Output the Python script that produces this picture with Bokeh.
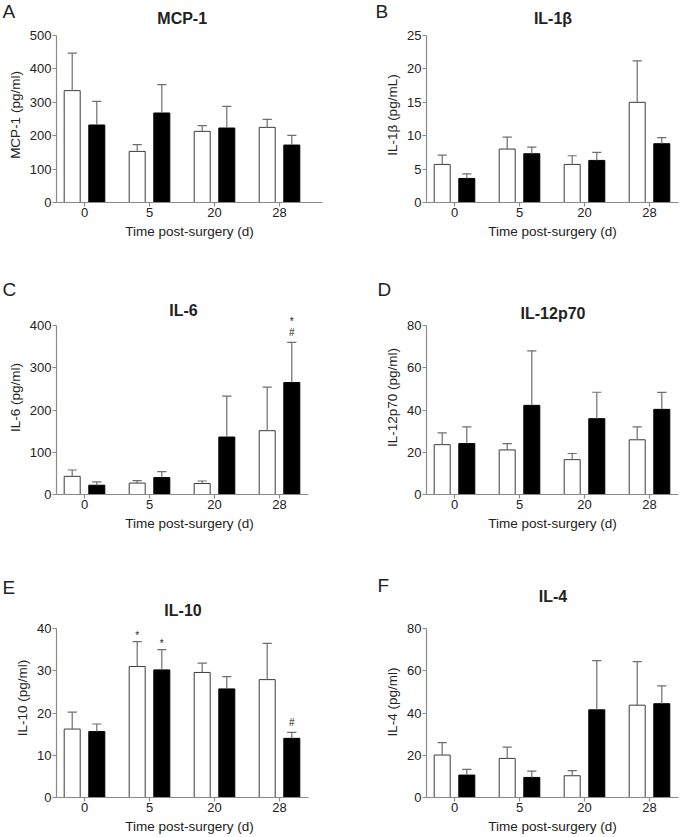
import numpy as np
from bokeh.plotting import figure
from bokeh.layouts import row, column
from bokeh.models import Range1d, FixedTicker, LabelSet, ColumnDataSource
from bokeh.core.properties import value
from bokeh.embed import file_html
from bokeh.resources import INLINE

# ---------------- data ----------------
days = ["0", "5", "20", "28"]
xlabel = "Time post-surgery (d)"

# open (white) bars and filled (black) bars: mean and upper error (SEM)
mcp1_open = [335, 153, 213, 225]
mcp1_open_err = [112, 20, 17, 24]
mcp1_fill = [232, 268, 223, 172]
mcp1_fill_err = [71, 85, 65, 29]

il1b_open = [5.7, 8.0, 5.7, 15.0]
il1b_open_err = [1.4, 1.8, 1.3, 6.2]
il1b_fill = [3.6, 7.3, 6.3, 8.8]
il1b_fill_err = [0.7, 1.0, 1.2, 0.9]

il6_open = [43, 27, 26, 151]
il6_open_err = [15, 6, 6, 103]
il6_fill = [22, 40, 136, 265]
il6_fill_err = [8, 14, 97, 95]

il12_open = [23.6, 21.1, 16.5, 25.9]
il12_open_err = [5.6, 3.0, 2.9, 6.1]
il12_fill = [24.1, 42.2, 35.9, 40.3]
il12_fill_err = [7.9, 25.8, 12.5, 8.0]

il10_open = [16.2, 31.0, 29.6, 27.9]
il10_open_err = [4.0, 5.9, 2.2, 8.6]
il10_fill = [15.6, 30.2, 25.7, 14.0]
il10_fill_err = [1.8, 4.8, 2.9, 1.4]

il4_open = [20.1, 18.5, 10.3, 43.7]
il4_open_err = [5.9, 5.3, 2.4, 20.6]
il4_fill = [10.6, 9.5, 41.5, 44.4]
il4_fill_err = [2.7, 3.0, 23.3, 8.4]

# significance marks: day index, series, symbol, stack level
il6_mark_day = [3, 3]
il6_mark_series = ["fill", "fill"]
il6_mark_sym = ["#", "*"]
il6_mark_level = [0, 1]

il10_mark_day = [1, 1, 3]
il10_mark_series = ["open", "fill", "fill"]
il10_mark_sym = ["*", "*", "#"]
il10_mark_level = [0, 0, 0]

# ---------------- style / layout ----------------
FONT = "Liberation Sans"
TXT = "#222222"
AXIS = "#8a8a8a"
BAR_LINE = "#3a3a3a"
ERR = "#6e6e6e"
GROUP_PX = 65.0
BAR_W = 16 / GROUP_PX
OFF = 12.3 / GROUP_PX
CAP = 4.6 / GROUP_PX
MARK_BASE = {"*": 3, "#": 6}
MARK_STEP = 14

COL_W = 340
COLS = [dict(left=56, right=18), dict(left=86, right=2)]


def screen_text(fig, x, y, text, size, bold=False, align="left"):
    src = ColumnDataSource(dict(x=[x], y=[y], text=[text]))
    fig.add_layout(LabelSet(x="x", y="y", text="text", source=src,
                            x_units="screen", y_units="screen",
                            text_font=value(FONT), text_font_size=value(size),
                            text_font_style="bold" if bold else "normal",
                            text_color=TXT, text_align=align,
                            text_baseline="alphabetic"))


def strip(height, letter, lx, ly, title=None, tx=None, ty=None):
    s = figure(width=COL_W, height=height, x_range=Range1d(0, COL_W),
               y_range=Range1d(0, height), x_axis_type=None, y_axis_type=None,
               output_backend="svg", toolbar_location=None, min_border=0,
               frame_align=False)
    s.outline_line_color = None
    s.grid.visible = False
    screen_text(s, lx, ly, letter, "19px")
    if title is not None:
        screen_text(s, tx, ty, title, "16px", bold=True, align="center")
    return s


def panel(ylabel, ymax, ystep, o, oe, f, fe, col, height, frame_h, axis_gap,
          bottom, axis_end=None, marks=None, title=None, tx=None, ty=None):
    c = COLS[col]
    fw = COL_W - c["left"] - c["right"]
    x0 = -28 / GROUP_PX
    x1 = x0 + fw / GROUP_PX
    ytop = ymax * frame_h / (frame_h - axis_gap)
    p = figure(width=COL_W, height=height,
               x_range=Range1d(x0, x1), y_range=Range1d(0, ytop),
               output_backend="svg", toolbar_location=None,
               min_border_left=c["left"], min_border_right=c["right"],
               min_border_top=0, min_border_bottom=bottom, frame_align=False)
    p.outline_line_color = None
    p.grid.visible = False

    idx = np.arange(len(days))
    xo = idx - OFF
    xf = idx + OFF
    o = np.array(o, float); oe = np.array(oe, float)
    f = np.array(f, float); fe = np.array(fe, float)

    p.vbar(x=xo, top=o, bottom=0, width=BAR_W, fill_color="white",
           line_color=BAR_LINE, line_width=1)
    p.vbar(x=xf, top=f, bottom=0, width=BAR_W, fill_color="black",
           line_color="black", line_width=1)
    for xx, m, e in ((xo, o, oe), (xf, f, fe)):
        p.segment(x0=xx, y0=m, x1=xx, y1=m + e, line_color=ERR, line_width=1.2)
        p.segment(x0=xx - CAP, y0=m + e, x1=xx + CAP, y1=m + e,
                  line_color=ERR, line_width=1.2)

    xa = p.xaxis[0]
    xa.ticker = FixedTicker(ticks=[int(i) for i in idx])
    xa.major_label_overrides = {int(i): d for i, d in enumerate(days)}
    xa.axis_label = xlabel
    if axis_end is not None:
        xa.bounds = (x0, axis_end)
    ya = p.yaxis[0]
    ya.ticker = FixedTicker(ticks=list(range(0, ymax + 1, ystep)))
    ya.bounds = (0, ymax)
    ya.axis_label = ylabel
    for ax in (xa, ya):
        ax.axis_line_color = AXIS
        ax.axis_line_width = 1.2
        ax.major_tick_line_color = AXIS
        ax.major_tick_line_width = 1.2
        ax.major_tick_out = 4
        ax.major_tick_in = 0
        ax.minor_tick_line_color = None
        ax.major_label_text_font = FONT
        ax.major_label_text_font_size = "13px"
        ax.major_label_text_color = TXT
        ax.axis_label_text_font = FONT
        ax.axis_label_text_font_size = "13.5px"
        ax.axis_label_text_font_style = "normal"
        ax.axis_label_text_color = TXT
        ax.major_label_standoff = 1
        ax.axis_label_standoff = 4

    if title is not None:
        screen_text(p, tx, ty, title, "16px", bold=True, align="center")

    if marks is not None:
        mday, mser, msym, mlev = marks
        mx, my, moff = [], [], []
        for d, s, sym, lv in zip(mday, mser, msym, mlev):
            if s == "open":
                mx.append(d - OFF); my.append(o[d] + oe[d])
            else:
                mx.append(d + OFF); my.append(f[d] + fe[d])
            moff.append(MARK_BASE[sym] + MARK_STEP * lv)
        src = ColumnDataSource(dict(x=mx, y=my, text=msym, off=moff))
        p.add_layout(LabelSet(x="x", y="y", text="text", source=src, y_offset="off",
                              text_font=value(FONT), text_font_size="10px",
                              text_color=TXT, text_align="center",
                              text_baseline="alphabetic"))
    return p


# row 1 (page 0..250): strip 0..27, plots 27..250
sA = strip(27, "A", 2, 9.5, "MCP-1", 181.7, 4)
pA = panel("MCP-1 (pg/ml)", 500, 100, mcp1_open, mcp1_open_err, mcp1_fill,
           mcp1_fill_err, 0, 223, 175, 8, 48)
sB = strip(27, "B", 35, 9.5, "IL-1β", 212.5, 3.5)
pB = panel("IL-1β (pg/mL)", 25, 5, il1b_open, il1b_open_err, il1b_fill,
           il1b_fill_err, 1, 223, 175, 8, 48)

# row 2 (page 250..540): strip 250..300, plots 300..540
sC = strip(50, "C", 2, 5)
pC = panel("IL-6 (pg/ml)", 400, 100, il6_open, il6_open_err, il6_fill,
           il6_fill_err, 0, 240, 194, 25, 46, axis_end=224 / GROUP_PX,
           marks=(il6_mark_day, il6_mark_series, il6_mark_sym, il6_mark_level),
           title="IL-6", tx=127, ty=179)
sD = strip(50, "D", 37, 5)
pD = panel("IL-12p70 (pg/ml)", 80, 20, il12_open, il12_open_err, il12_fill,
           il12_fill_err, 1, 240, 194, 25, 46,
           title="IL-12p70", tx=126.5, ty=176)

# row 3 (page 540..837)
sE = strip(58, "E", 2, 4.7)
pE = panel("IL-10 (pg/ml)", 40, 10, il10_open, il10_open_err, il10_fill,
           il10_fill_err, 0, 239, 199, 30, 40, axis_end=224 / GROUP_PX,
           marks=(il10_mark_day, il10_mark_series, il10_mark_sym, il10_mark_level),
           title="IL-10", tx=126.5, ty=182)
sF = strip(66, "F", 37, 14.3, "IL-4", 212.5, 5)
pF = panel("IL-4 (pg/ml)", 80, 20, il4_open, il4_open_err, il4_fill,
           il4_fill_err, 1, 231, 191, 22, 40)

layout = column(
    row(column(sA, pA), column(sB, pB)),
    row(column(sC, pC), column(sD, pD)),
    row(column(sE, pE), column(sF, pF)),
)

open("out.html", "w").write(file_html(layout, INLINE))
